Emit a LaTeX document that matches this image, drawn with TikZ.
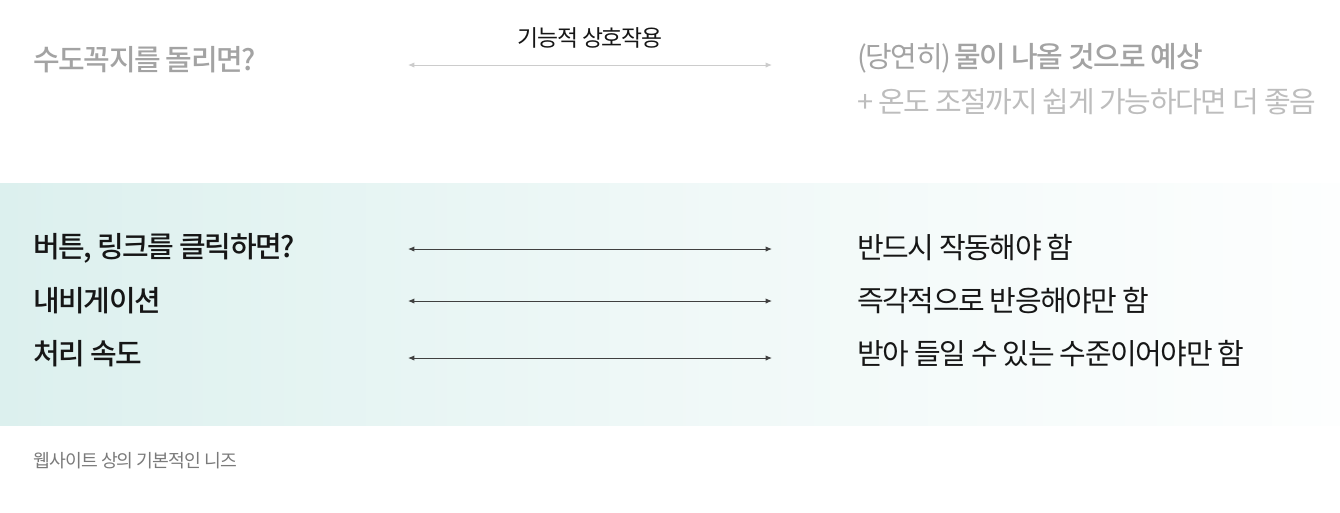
\documentclass[tikz,border=0pt]{standalone}
\usepackage{fontspec}
\setmainfont{Noto Sans CJK KR}[LetterSpace=-5, BoldFont={Noto Sans CJK KR Medium}]
\usetikzlibrary{positioning, arrows.meta}

\definecolor{bandteal}{HTML}{DCF0EE}
\definecolor{inkdark}{HTML}{161616}
\definecolor{fadegray}{HTML}{A3A3A3}
\definecolor{palegray}{HTML}{BDBDBD}
\definecolor{notegray}{HTML}{7A7A7A}

\tikzset{
    lbl/.style={anchor=west, inner sep=0pt, text=inkdark},
    bigtxt/.style={lbl, font=\fontsize{16.5}{20}\selectfont},
    midtxt/.style={inner sep=0pt, text=inkdark, font=\fontsize{13}{16}\selectfont},
    smalltxt/.style={lbl, text=notegray, font=\fontsize{10.4}{13}\selectfont},
    link/.style={{Latex[length=3.6pt,width=3pt]}-{Latex[length=3.6pt,width=3pt]}, line width=0.55pt, draw=black!75},
    faintlink/.style={link, draw=black!20}
}

\begin{document}
\begin{tikzpicture}[x=0.02cm, y=-0.02cm]
    \useasboundingbox (0,0) rectangle (1340,512);
    % Band behind the website rows
    \shade[left color=bandteal, right color=bandteal!6, middle color=bandteal!45] (0,183) rectangle (1340,425);

    % Tap example (top)
    \node[bigtxt, text=fadegray, font=\fontsize{16.5}{20}\selectfont\bfseries] (tap) at (33,60) {수도꼭지를 돌리면?};
    \node[midtxt] (func) at (590,38) {기능적 상호작용};
    \coordinate (tapL) at (408,65);
    \coordinate (tapR) at (772,65);
    \draw[faintlink] (tapL) -- (tapR);
    \node[bigtxt, text=fadegray] (expect) at (857,58) {(당연히) \textbf{물이 나올 것으로 예상}};
    \node[bigtxt, text=palegray] (bonus) at (857,102) {+ 온도 조절까지 쉽게 가능하다면 더 좋음};

    % Website rows
    \node[bigtxt, font=\fontsize{16.5}{20}\selectfont\bfseries] (click) at (33,248) {버튼, 링크를 클릭하면?};
    \node[bigtxt, font=\fontsize{16.5}{20}\selectfont\bfseries] (nav) at (33,301) {내비게이션};
    \node[bigtxt, font=\fontsize{16.5}{20}\selectfont\bfseries] (speed) at (33,354) {처리 속도};

    \node[bigtxt] (works) at (857,248) {반드시 작동해야 함};
    \node[bigtxt] (react) at (857,301) {즉각적으로 반응해야만 함};
    \node[bigtxt] (accept) at (857,354) {받아 들일 수 있는 수준이어야만 함};

    \coordinate (clickL) at (408,249);  \coordinate (clickR) at (772,249);
    \coordinate (navL) at (408,301);    \coordinate (navR) at (772,301);
    \coordinate (speedL) at (408,358);  \coordinate (speedR) at (772,358);
    \draw[link] (clickL) -- (clickR);
    \draw[link] (navL) -- (navR);
    \draw[link] (speedL) -- (speedR);

    % Caption
    \node[smalltxt] (caption) at (33,461) {웹사이트 상의 기본적인 니즈};
\end{tikzpicture}
\end{document}
